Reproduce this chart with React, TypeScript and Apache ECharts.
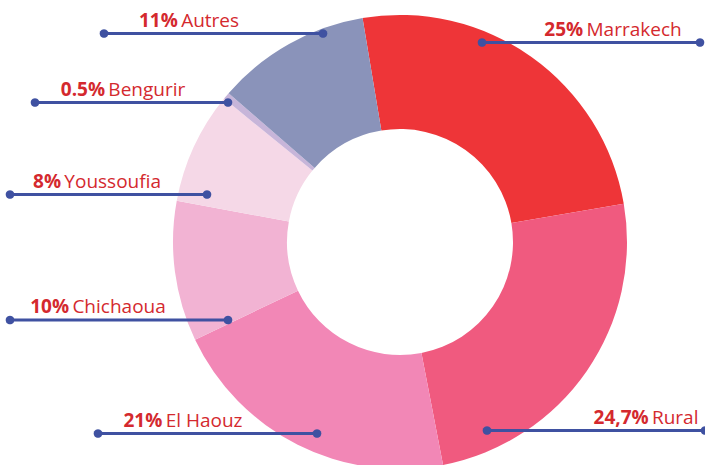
import React, { useEffect, useRef } from "react";
import * as echarts from "echarts";

const categories = ["Marrakech", "Rural", "El Haouz", "Chichaoua", "Youssoufia", "Bengurir", "Autres"];
const values = [25, 24.7, 21, 10, 8, 0.5, 11];
const percentLabels = ["25%", "24,7%", "21%", "10%", "8%", "0.5%", "11%"];
const colors = ["#EE3538", "#F05A7F", "#F287B6", "#F2B3D3", "#F5D8E7", "#C7B5D9", "#8A93BA"];

// label layout (style): line y, slice-side dot x, outer dot x, text center x
const labelLayoutTable = [
  { y: 42.5, inner: 482, outer: 700, textX: 613 },
  { y: 430.5, inner: 487, outer: 705, textX: 646 },
  { y: 433.5, inner: 317, outer: 98, textX: 183 },
  { y: 320, inner: 228, outer: 10, textX: 98 },
  { y: 194.5, inner: 207, outer: 10, textX: 97 },
  { y: 102.5, inner: 228, outer: 35, textX: 123 },
  { y: 33.5, inner: 323, outer: 104, textX: 189 },
];

const LINE_COLOR = "#3F51A1";
const TEXT_COLOR = "#D4292E";
const FONT = "Open Sans";

export default function App() {
  const ref = useRef<HTMLDivElement>(null);
  useEffect(() => {
    if (!ref.current) return;
    const chart = echarts.init(ref.current, undefined, { renderer: "svg" });
    const marks: any[] = [];
    labelLayoutTable.forEach((l) => {
      marks.push({
        type: "line",
        shape: { x1: l.inner, y1: l.y, x2: l.outer, y2: l.y },
        style: { stroke: LINE_COLOR, lineWidth: 3.2 },
        z: 100,
      });
      [l.inner, l.outer].forEach((x) => {
        marks.push({
          type: "circle",
          shape: { cx: x, cy: l.y, r: 4.3 },
          style: { fill: LINE_COLOR },
          z: 101,
        });
      });
    });
    chart.setOption({
      animation: false,
      backgroundColor: "#ffffff",
      graphic: marks,
      series: [
        {
          type: "pie",
          center: [400, 242],
          radius: [113, 227],
          startAngle: 99.5,
          clockwise: true,
          avoidLabelOverlap: false,
          data: categories.map((name, i) => ({
            name,
            value: values[i],
            itemStyle: { color: colors[i] },
          })),
          label: {
            show: true,
            position: "outside",
            formatter: (p: any) => `{b|${percentLabels[p.dataIndex]}} {n|${p.name}}`,
            rich: {
              b: { fontFamily: FONT, fontWeight: "bold", fontSize: 19, color: TEXT_COLOR },
              n: { fontFamily: FONT, fontWeight: "normal", fontSize: 19, color: TEXT_COLOR },
            },
          },
          labelLine: { show: false },
          labelLayout: (params: any) => {
            const l = labelLayoutTable[params.dataIndex];
            return {
              x: l.textX,
              y: l.y - 14,
              align: "center",
              verticalAlign: "middle",
            };
          },
          emphasis: { disabled: true },
        },
      ],
    });
    return () => chart.dispose();
  }, []);
  return (
    <div
      ref={ref}
      style={{ position: "fixed", left: 0, top: 0, width: 705, height: 465 }}
    />
  );
}
